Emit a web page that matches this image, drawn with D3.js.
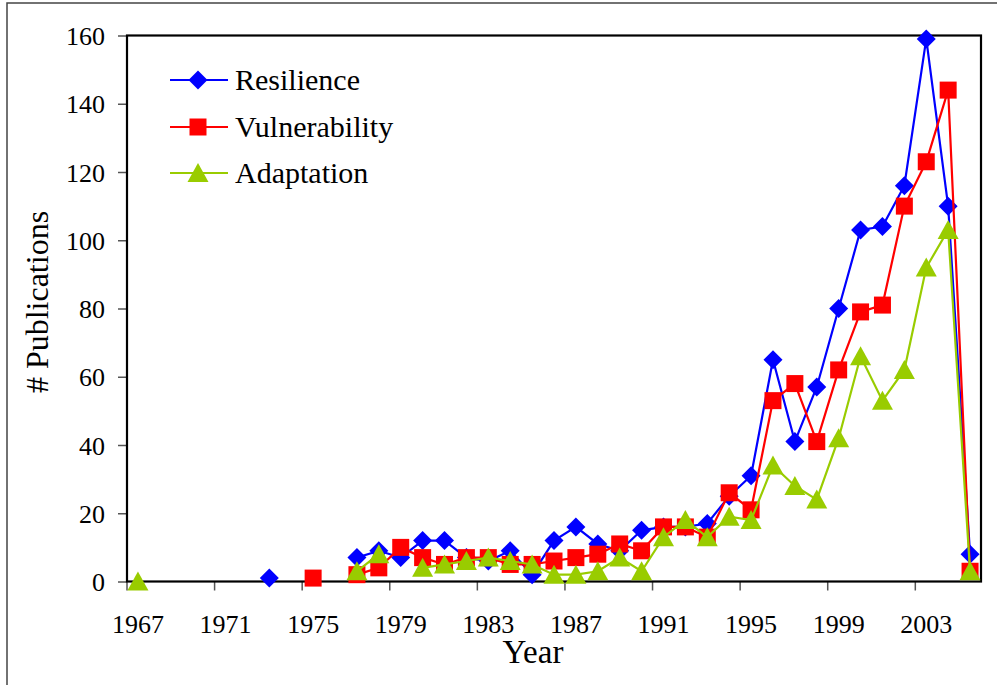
<!DOCTYPE html>
<html>
<head>
<meta charset="utf-8">
<script src="https://cdn.jsdelivr.net/npm/d3@7"></script>
<style>
  html, body { margin: 0; padding: 0; background: #fff; }
  svg { display: block; font-family: "Liberation Serif", "Times New Roman", serif; }
  svg text { font-family: "Liberation Serif", "Times New Roman", serif; }
</style>
</head>
<body>
<svg id="chart" width="997" height="685"></svg>
<script>
// years 1967..2005, null = no publication count recorded
const years = d3.range(1967, 2006);
const resilience = [
  null, null, null, null, null, null, 1, null, null, null,
  7, 9, 7, 12, 12, 7, 6, 9, 2, 12,
  16, 11, 9, 15, 16, 16, 17, 25, 31, 65,
  41, 57, 80, 103, 104, 116, 159, 110, 8
];
const vulnerability = [
  null, null, null, null, null, null, null, null, 1, null,
  2, 4, 10, 7, 5, 7, 7, 5, 5, 6,
  7, 8, 11, 9, 16, 16, 13, 26, 21, 53,
  58, 41, 62, 79, 81, 110, 123, 144, 3
];
const adaptation = [
  0, null, null, null, null, null, null, null, null, null,
  3, 8, null, 4, 5, 6, 7, 6, 5, 2,
  2, 3, 7, 3, 13, 18, 13, 19, 18, 34,
  28, 24, 42, 66, 53, 62, 92, 103, 3
];
const yTicks = [0, 20, 40, 60, 80, 100, 120, 140, 160];
const xLabelYears = years.filter((yr) => (yr - 1967) % 4 === 0);

const series = [
  { name: "Resilience", values: resilience, color: "#0000FF", shape: "diamond" },
  { name: "Vulnerability", values: vulnerability, color: "#FF0000", shape: "square" },
  { name: "Adaptation", values: adaptation, color: "#99CC00", shape: "triangle" },
];

const svg = d3.select("#chart");
const plotLeft = 127, plotRight = 981, plotTop = 35.5, plotBottom = 581.5;

const x = d3.scaleBand().domain(years).range([plotLeft, plotRight]).padding(0);
const y = d3.scaleLinear().domain([0, 160]).range([plotBottom, plotTop]);
const cx = (yr) => x(yr) + x.bandwidth() / 2;

// outer frame (only the top/left edges fall inside the picture)
svg.append("rect")
  .attr("x", 7).attr("y", 3).attr("width", 1100).attr("height", 800)
  .attr("fill", "none").attr("stroke", "#444").attr("stroke-width", 1.5);

// y axis
const yAxis = svg.append("g")
  .attr("transform", `translate(${plotLeft},0)`)
  .call(d3.axisLeft(y).tickValues(yTicks).tickSize(9).tickPadding(13).tickFormat(d3.format("d")))
  .attr("font-family", null)
  .attr("font-size", 26);
yAxis.select(".domain").remove();
yAxis.selectAll(".tick line").attr("stroke", "#555").attr("stroke-width", 1.5);
yAxis.selectAll(".tick text").attr("fill", "#000").attr("dy", "0.35em");

// x axis: labels at category centres, tick marks at category edges
const xAxis = svg.append("g")
  .attr("transform", `translate(0,${plotBottom})`)
  .call(d3.axisBottom(x).tickValues(xLabelYears).tickSize(9).tickPadding(24))
  .attr("font-family", null)
  .attr("font-size", 26);
xAxis.select(".domain").remove();
xAxis.selectAll(".tick line")
  .attr("x1", -x.bandwidth() / 2).attr("x2", -x.bandwidth() / 2)
  .attr("stroke", "#555").attr("stroke-width", 1.5);
xAxis.selectAll(".tick text").attr("fill", "#000");

// plot area border
svg.append("rect")
  .attr("x", plotLeft).attr("y", plotTop)
  .attr("width", plotRight - plotLeft).attr("height", plotBottom - plotTop)
  .attr("fill", "none").attr("stroke", "#000").attr("stroke-width", 2.2);

const markerPath = {
  diamond: "M0,-9.5L9.5,0L0,9.5L-9.5,0Z",
  square: "M-8.5,-8.5H8.5V8.5H-8.5Z",
  triangle: "M0,-10L10.5,9L-10.5,9Z",
};

const line = d3.line()
  .defined((d) => d.v != null)
  .x((d) => cx(d.year))
  .y((d) => y(d.v));

series.forEach((s) => {
  const pts = years.map((yr, i) => ({ year: yr, v: s.values[i] }));
  const g = svg.append("g");
  g.append("path")
    .datum(pts)
    .attr("d", line)
    .attr("fill", "none")
    .attr("stroke", s.color)
    .attr("stroke-width", 2.2);
  g.selectAll("path.marker")
    .data(pts.filter((d) => d.v != null))
    .join("path")
    .attr("class", "marker")
    .attr("d", markerPath[s.shape])
    .attr("transform", (d) => `translate(${cx(d.year)},${y(d.v)})`)
    .attr("fill", s.color);
});

// legend
const legend = svg.append("g");
const legendY = [80, 127, 173];
series.forEach((s, i) => {
  const row = legend.append("g").attr("transform", `translate(0,${legendY[i]})`);
  row.append("line")
    .attr("x1", 170).attr("x2", 228)
    .attr("stroke", s.color).attr("stroke-width", 2.2);
  row.append("path")
    .attr("d", markerPath[s.shape])
    .attr("transform", "translate(198,0)")
    .attr("fill", s.color);
  row.append("text")
    .attr("x", 235).attr("y", 10)
    .attr("font-size", 30)
    .text(s.name);
});

// axis titles
svg.append("text")
  .attr("x", 533).attr("y", 663)
  .attr("text-anchor", "middle")
  .attr("font-size", 33)
  .text("Year");

svg.append("text")
  .attr("transform", "translate(48,302) rotate(-90)")
  .attr("text-anchor", "middle")
  .attr("font-size", 32)
  .text("# Publications");
</script>
</body>
</html>
